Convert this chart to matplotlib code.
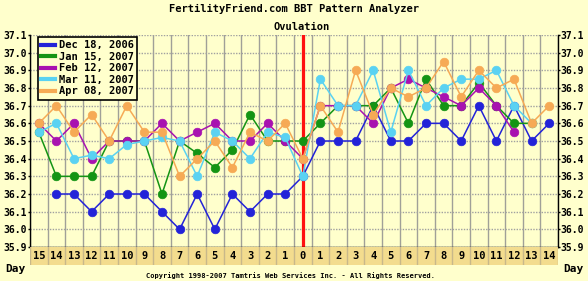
import numpy as np
import matplotlib
matplotlib.use("Agg")
import matplotlib.pyplot as plt
from matplotlib.lines import Line2D

# day labels: 15 days before ovulation, day 0, 14 days after
day_labels = [str(d) for d in range(15, 0, -1)] + ["0"] + [str(d) for d in range(1, 15)]
nan = np.nan

dec18 = [nan, 36.2, 36.2, 36.1, 36.2, 36.2, 36.2, 36.1, 36.0, 36.2, 36.0, 36.2, 36.1, 36.2, 36.2,
         36.3,
         36.5, 36.5, 36.5, 36.7, 36.5, 36.5, 36.6, 36.6, 36.5, 36.7, 36.5, 36.7, 36.5, 36.6]
jan15 = [36.55, 36.3, 36.3, 36.3, 36.5, 36.5, 36.5, 36.2, 36.5, 36.43, 36.35, 36.45, 36.65, 36.5, 36.5,
         36.5,
         36.6, 36.7, 36.7, 36.7, 36.8, 36.6, 36.85, 36.7, 36.7, 36.83, 36.7, 36.6, 36.6, nan]
feb12 = [36.6, 36.5, 36.6, 36.4, 36.5, 36.5, 36.5, 36.6, 36.5, 36.55, 36.6, 36.5, 36.5, 36.6, 36.5,
         36.4,
         36.7, 36.7, 36.7, 36.6, 36.8, 36.85, 36.8, 36.75, 36.7, 36.8, 36.7, 36.55, nan, nan]
mar11 = [36.55, 36.6, 36.4, 36.42, 36.4, 36.48, 36.5, 36.52, 36.5, 36.3, 36.55, 36.5, 36.4, 36.55, 36.52,
         36.3,
         36.85, 36.7, 36.7, 36.9, 36.55, 36.9, 36.7, 36.8, 36.85, 36.85, 36.9, 36.7, 36.6, nan]
apr08 = [36.6, 36.7, 36.55, 36.65, 36.5, 36.7, 36.55, 36.55, 36.3, 36.4, 36.5, 36.35, 36.55, 36.5, 36.6,
         36.4,
         36.7, 36.55, 36.9, 36.65, 36.8, 36.75, 36.8, 36.95, 36.75, 36.9, 36.8, 36.85, 36.6, 36.7]

series = [
    ("Dec 18, 2006", dec18, "#2323d8"),
    ("Jan 15, 2007", jan15, "#149414"),
    ("Feb 12, 2007", feb12, "#a812b0"),
    ("Mar 11, 2007", mar11, "#5ad2f2"),
    ("Apr 08, 2007", apr08, "#f6aa55"),
]

bg = "#ffffcc"
mono = "DejaVu Sans Mono"
x = np.arange(len(day_labels))
ovul = day_labels.index("0")

fig = plt.figure(figsize=(5.88, 2.81), dpi=100, facecolor=bg)
ax = fig.add_axes([30 / 588, 1 - 247 / 281, 528 / 588, 212 / 281], facecolor=bg)

# grid
for i in range(len(x) + 1):
    ax.axvline(i - 0.5, color="#a0a098", lw=1.0, zorder=1)
yt = np.round(np.arange(35.9, 37.11, 0.1), 1)
for v in yt:
    ax.axhline(v, color="#a0a0a0", lw=1.0, ls=(0, (1, 1)), zorder=1)

ax.axvline(ovul, color="#ff1010", lw=2.3, zorder=2)

for name, vals, col in series:
    ax.plot(x, np.array(vals, dtype=float), color=col, lw=1.1, marker="o", ms=6.2,
            mec=col, mfc=col, mew=0.5, zorder=3)

ax.set_xlim(-0.5, len(x) - 0.5)
ax.set_ylim(35.9, 37.1)
ax.set_xticks([])
ax.set_yticks(yt)
ax.set_yticklabels([f"{v:.1f}" for v in yt])
ax.tick_params(axis="y", which="both", left=True, right=True, labelleft=True, labelright=True,
               length=1.5, width=1, pad=0.5)
for lab in ax.get_yticklabels():
    lab.set_fontfamily(mono)
    lab.set_fontweight("bold")
    lab.set_fontsize(7.0)
for sp in ax.spines.values():
    sp.set_color("black")
    sp.set_linewidth(1)
ax.spines["top"].set_visible(False)

handles = [Line2D([0], [0], color=c, lw=3) for _, _, c in series]
leg = ax.legend(handles, [s[0] for s in series], loc="upper left", bbox_to_anchor=(0.015, 0.99),
                borderaxespad=0, handlelength=1.3, handletextpad=0.4, labelspacing=0.15,
                borderpad=0.3, fancybox=False, framealpha=1,
                prop={"family": mono, "weight": "bold", "size": 7.5})
leg.get_frame().set_facecolor(bg)
leg.get_frame().set_edgecolor("black")
leg.get_frame().set_linewidth(1.2)
leg.set_zorder(5)

# day band under the plot
band = fig.add_axes([30 / 588, 1 - 265 / 281, 528 / 588, 18 / 281], facecolor="#f3dc8e")
band.set_xlim(-0.5, len(x) - 0.5)
band.set_ylim(0, 1)
band.set_xticks([])
band.set_yticks([])
for sp in band.spines.values():
    sp.set_visible(False)
for i in range(len(x) + 1):
    band.axvline(i - 0.5, color="#c8b88a", lw=1)
for i, lab in enumerate(day_labels):
    band.text(i, 0.5, lab, ha="center", va="center", family=mono, weight="bold", fontsize=7.5)

fig.text(15 / 588, 1 - 269 / 281, "Day", ha="center", va="center", family=mono, weight="bold", fontsize=8)
fig.text(573 / 588, 1 - 269 / 281, "Day", ha="center", va="center", family=mono, weight="bold", fontsize=8)

fig.text(294 / 588, 1 - 9 / 281, "FertilityFriend.com BBT Pattern Analyzer", ha="center", va="center",
         family=mono, weight="bold", fontsize=7.5)
fig.text(302 / 588, 1 - 27 / 281, "Ovulation", ha="center", va="center",
         family=mono, weight="bold", fontsize=7.5)
fig.text(290 / 588, 1 - 276 / 281,
         "Copyright 1998-2007 Tamtris Web Services Inc. - All Rights Reserved.",
         ha="center", va="center", family=mono, weight="bold", fontsize=5.0)

fig.savefig("out.png", dpi=100, facecolor=bg)
